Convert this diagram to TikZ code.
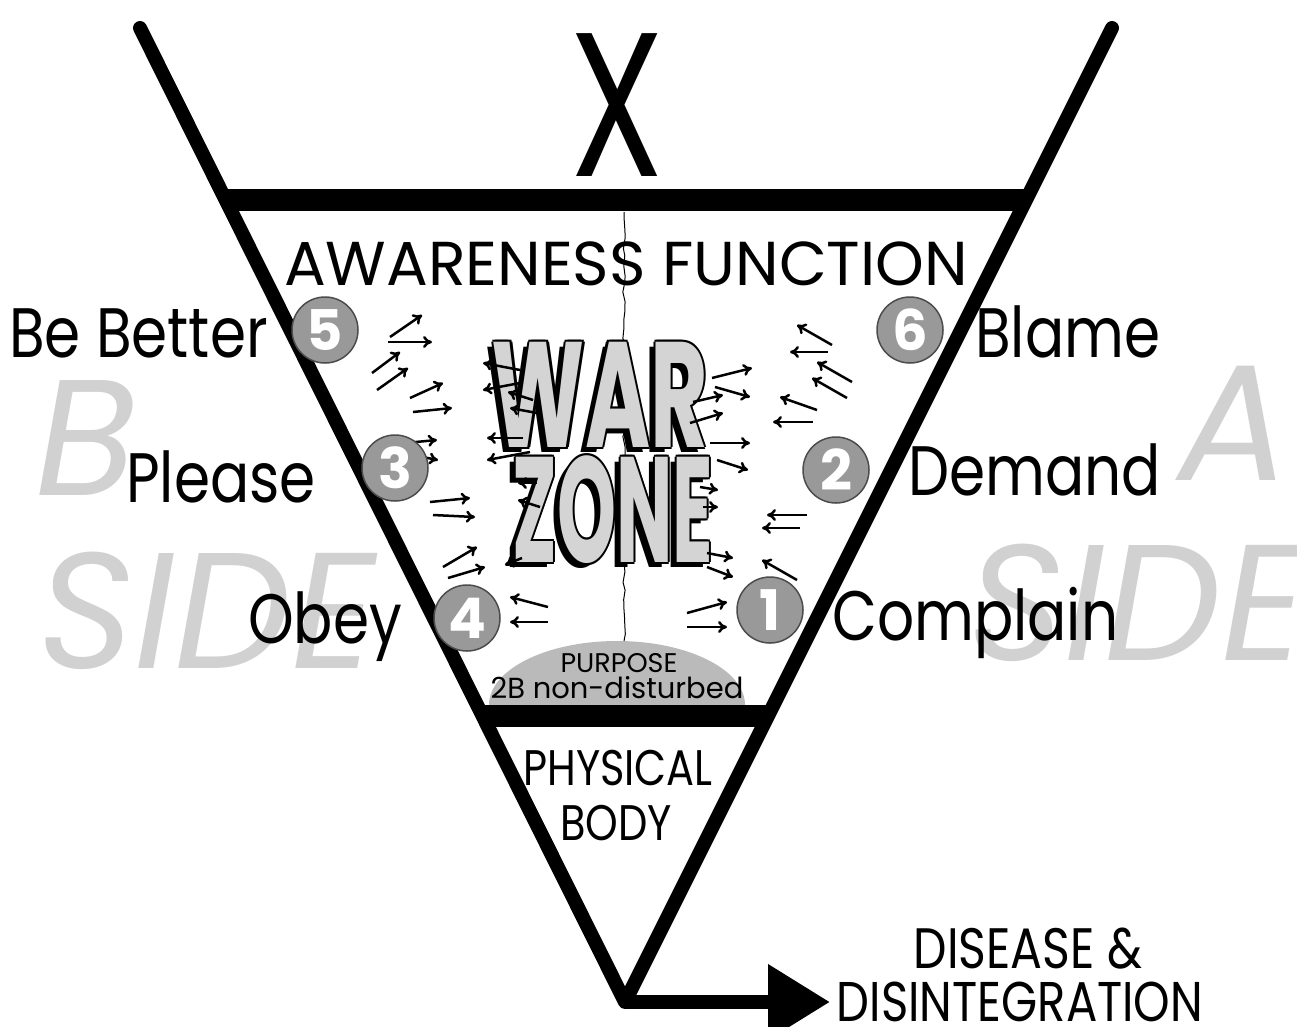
\documentclass[tikz,border=0pt]{standalone}
\usepackage{fontspec}
\setmainfont{Poppins}
\newfontfamily\narrowfont{Poppins}[FakeStretch=0.83]
\usetikzlibrary{arrows.meta,calc,decorations.pathmorphing}

\begin{document}
\begin{tikzpicture}[x=1pt,y=-1pt]
\tikzset{
  sideletter/.style={text=black!18, font=\fontsize{165}{165}\selectfont\itshape, inner sep=0},
  lbl/.style={font=\narrowfont\fontsize{70}{70}\selectfont, inner sep=0},
  num/.style={circle, minimum size=66pt, inner sep=0, fill=black!40, draw=black!70, line width=1.5pt, text=white, font=\fontsize{56}{56}\selectfont\bfseries},
  war/.style={font=\fontsize{150}{150}\selectfont\bfseries, inner sep=0},
  zap/.style={line width=2.5pt, -{To[length=9pt,width=12pt]}},
  wall/.style={line width=14pt, line cap=round, line join=round},
}
\useasboundingbox (0,0) rectangle (1297,1026);

% the two sides
\node[sideletter, anchor=base west] (bB) at (35,495) {B};
\node[sideletter, anchor=base west] (bside) at (38,668) {SIDE};
\node[sideletter, anchor=base west] (aA) at (1178,480) {A};
\node[sideletter, anchor=base west] (aside) at (968,660) {SIDE};

% the funnel
\coordinate (tl) at (140,28);
\coordinate (tr) at (1112,28);
\coordinate (apex) at (625,1002);
\coordinate (outarrow) at (830,1002);
\coordinate (topL) at ($(tl)!0.177!(apex)$);
\coordinate (topR) at ($(tr)!0.177!(apex)$);
\coordinate (midL) at ($(tl)!0.706!(apex)$);
\coordinate (midR) at ($(tr)!0.706!(apex)$);

\fill[black!27] (489,705) arc[start angle=180, end angle=360, x radius=128, y radius=64];
\draw[line width=1pt, decorate, decoration={random steps, segment length=9pt, amplitude=1.5pt}]
  (624,212) -- (624,641);

\draw[wall] (tl) -- (apex) -- (tr);
\draw[line width=22pt] (topL) -- (topR);
\draw[line width=22pt] (midL) -- (midR);
\draw[line width=14pt, -{Triangle[length=62pt,width=72pt]}] (apex) -- (outarrow);

\node[font=\narrowfont\fontsize{205}{205}\selectfont, inner sep=0, anchor=base] (xmark) at (617,176) {\scalebox{0.9}[1]{X}};
\node[font=\fontsize{62}{62}\selectfont, inner sep=0, anchor=base] (aware) at (626,285) {AWARENESS FUNCTION};

% war zone
\foreach \txt/\px/\py/\sx in {WAR/600/395/0.59, ZONE/613/510/0.5} {
  \node[war, text=black] at (\px-6,\py+5) {\scalebox{\sx}[1]{\txt}};
  \foreach \a in {0,60,...,300}
    \node[war, text=black] at ($(\px,\py)+(\a:2.2)$) {\scalebox{\sx}[1]{\txt}};
  \node[war, text=black!17] (\txt) at (\px,\py) {\scalebox{\sx}[1]{\txt}};
}

% little arrows
\foreach \xa/\ya/\xb/\yb in {
  520/370/483/363, 520/383/483/390, 533/400/508/392, 537/413/510/408,
  523/438/487/438, 530/452/487/460, 537/483/518/483, 540/507/518/500,
  522/558/505/565, 548/607/510/597, 548/622/510/622,
  390/337/422/315, 388/342/432/342, 372/373/400/352, 377/390/408/368,
  410/398/443/383, 413/412/452/408, 405/443/437/440, 412/455/438/460,
  430/502/470/498, 433/515/475/517, 443/567/477/547, 448/578/485/567,
  712/378/752/368, 715/387/750/397, 693/402/723/395, 690/423/723/413,
  710/443/750/443, 717/460/748/470, 700/487/718/490, 703/507/718/507,
  707/553/733/558, 707/567/733/577, 687/613/727/602, 687/627/727/627,
  832/345/797/325, 828/352/790/352, 852/382/817/362, 847/398/812/378,
  817/410/780/397, 813/422/773/422, 807/515/767/515, 800/528/762/528,
  797/580/762/560}
  \draw[zap] (\xa,\ya) -- (\xb,\yb);

% numbered points
\node[num] (n5) at (325,330) {5};
\node[num] (n3) at (395,468) {3};
\node[num] (n4) at (467,618) {4};
\node[num] (n6) at (910,330) {6};
\node[num] (n2) at (836,470) {2};
\node[num] (n1) at (770,610) {1};

\node[lbl, anchor=base east] (better) at (268,357) {Be Better};
\node[lbl, anchor=base east] (please) at (316,502) {Please};
\node[lbl, anchor=base east] (obey) at (402,643) {Obey};
\node[lbl, anchor=base west] (blame) at (975,357) {Blame};
\node[lbl, anchor=base west] (demand) at (908,495) {Demand};
\node[lbl, anchor=base west] (complain) at (832,640) {Complain};

\node[font=\fontsize{27}{27}\selectfont, inner sep=0, anchor=base] (purpose) at (619,672) {PURPOSE};
\node[font=\fontsize{29}{29}\selectfont, inner sep=0, anchor=base] (nondist) at (617,698) {2B non-disturbed};

\node[font=\narrowfont\fontsize{50}{50}\selectfont, inner sep=0, anchor=base] (phys) at (618,785) {PHYSICAL};
\node[font=\narrowfont\fontsize{50}{50}\selectfont, inner sep=0, anchor=base] (body) at (616,840) {BODY};

\node[font=\narrowfont\fontsize{57}{57}\selectfont, inner sep=0, anchor=base] (disease) at (1028,968) {DISEASE \&};
\node[font=\narrowfont\fontsize{56}{56}\selectfont, inner sep=0, anchor=base] (disint) at (1020,1021) {DISINTEGRATION};
\end{tikzpicture}
\end{document}
